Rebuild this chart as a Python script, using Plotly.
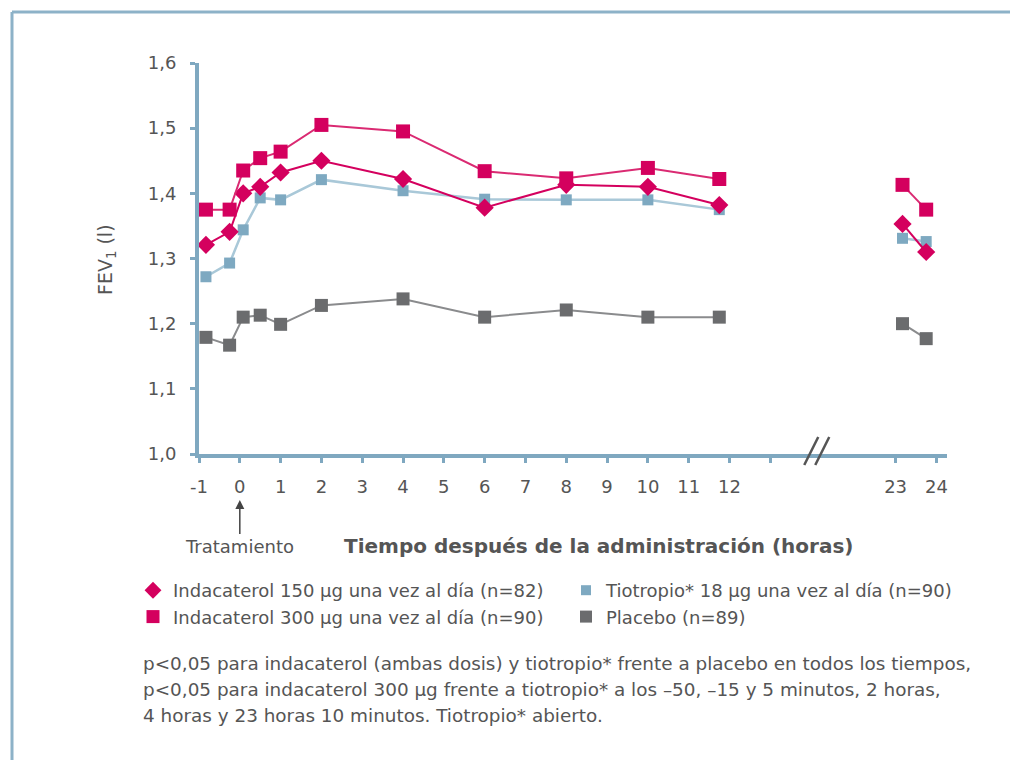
import plotly.graph_objects as go

# ---------------- data ----------------
hours = [-0.83, -0.25, 0.083, 0.5, 1, 2, 4, 6, 8, 10, 11.75, 23.17, 23.75]
ind150 = [1.321, 1.341, 1.400, 1.410, 1.432, 1.450, 1.422, 1.378, 1.413, 1.410, 1.382, 1.353, 1.310]
ind300 = [1.375, 1.375, 1.435, 1.454, 1.464, 1.505, 1.495, 1.434, 1.423, 1.439, 1.422, 1.413, 1.375]
tio = [1.272, 1.293, 1.344, 1.393, 1.390, 1.421, 1.404, 1.391, 1.390, 1.390, 1.375, 1.331, 1.326]
placebo = [1.179, 1.167, 1.210, 1.213, 1.199, 1.228, 1.238, 1.210, 1.221, 1.210, 1.210, 1.200, 1.177]

tick_hours = [-1, 0, 1, 2, 3, 4, 5, 6, 7, 8, 9, 10, 11, 12, 23, 24]
tick_labels = ["-1", "0", "1", "2", "3", "4", "5", "6", "7", "8", "9", "10", "11", "12", "23", "24"]
minor_tick_hours = [13]
y_ticks = [1.0, 1.1, 1.2, 1.3, 1.4, 1.5, 1.6]
y_labels = ["1,0", "1,1", "1,2", "1,3", "1,4", "1,5", "1,6"]

names = {
    "i150": "Indacaterol 150 µg una vez al día (n=82)",
    "tio": "Tiotropio* 18 µg una vez al día (n=90)",
    "i300": "Indacaterol 300 µg una vez al día (n=90)",
    "pla": "Placebo (n=89)",
}
footnote = [
    "p<0,05 para indacaterol (ambas dosis) y tiotropio* frente a placebo en todos los tiempos,",
    "p<0,05 para indacaterol 300 µg frente a tiotropio* a los –50, –15 y 5 minutos, 2 horas,",
    "4 horas y 23 horas 10 minutos. Tiotropio* abierto.",
]

# ---------------- layout helpers ----------------
W, H = 1010, 760
L, R, T, B = 199, 63, 63, 306
PW, PH = W - L - R, H - T - B
X_MAX = 17.33
BREAK_START = 18      # hours after which the axis is compressed
BREAK_OFFSET = 6.93   # hours removed by the axis break
BREAK_POS = 14.15


def to_axis(h):
    return h if h < BREAK_START else h - BREAK_OFFSET


def px(x):
    return (x - L) / PW


def py(y):
    return (H - B - y) / PH


def with_gap(xs, ys):
    ox, oy = [], []
    for i, (x, y) in enumerate(zip(xs, ys)):
        if i > 0 and x - xs[i - 1] > 5:
            ox.append(None)
            oy.append(None)
        ox.append(to_axis(x))
        oy.append(y)
    return ox, oy


AXIS_COLOR = "#7FA8C0"
MAGENTA = "#D4005E"
LBLUE = "#7EA9C1"
GRAY = "#6B6C6E"
TEXT = "#555555"
FONT = "DejaVu Sans"

fig = go.Figure()

series = [
    ("pla", placebo, GRAY, "#8A8B8D", "square", 13, 2),
    ("tio", tio, LBLUE, "#A9C8D8", "square", 11, 2.5),
    ("i150", ind150, MAGENTA, MAGENTA, "diamond", 14, 2),
    ("i300", ind300, MAGENTA, "#DA2A72", "square", 14, 2),
]
for key, vals, mc, lc, sym, size, lw in series:
    xs, ys = with_gap(hours, vals)
    fig.add_trace(go.Scatter(
        x=xs, y=ys, mode="lines+markers", connectgaps=False,
        line=dict(color=lc, width=lw),
        marker=dict(color=mc, symbol=sym, size=size),
        showlegend=False, hoverinfo="skip",
    ))

# legend entries (marker only, in reference order)
leg = [("i150", MAGENTA, "diamond", 13), ("tio", LBLUE, "square", 10),
       ("i300", MAGENTA, "square", 13), ("pla", GRAY, "square", 12)]
for key, c, sym, size in leg:
    fig.add_trace(go.Scatter(
        x=[None], y=[None], mode="markers", name=names[key],
        marker=dict(color=c, symbol=sym, size=size), showlegend=True,
    ))

shapes = []
# frame
shapes.append(dict(type="line", xref="paper", yref="paper", x0=px(12), x1=px(1012), y0=py(12), y1=py(12),
                   line=dict(color="#8DB2C8", width=3)))
shapes.append(dict(type="line", xref="paper", yref="paper", x0=px(12), x1=px(12), y0=py(12), y1=py(762),
                   line=dict(color="#8DB2C8", width=3)))
# axis break "//"
bx = L + (BREAK_POS + 1) * PW / (X_MAX + 1)
for dx in (-6, 5):
    shapes.append(dict(type="line", xref="paper", yref="paper",
                       x0=px(bx + dx - 7), x1=px(bx + dx + 7), y0=py(465), y1=py(437),
                       line=dict(color="#555555", width=2.5)))

annotations = [
    dict(text="FEV<sub>1</sub> (l)", xref="paper", yref="paper", x=px(106), y=py(260),
         showarrow=False, textangle=-90, font=dict(family=FONT, size=19, color=TEXT),
         xanchor="center", yanchor="middle"),
    dict(text="<b>Tiempo después de la administración (horas)</b>", xref="paper", yref="paper",
         x=px(598), y=py(546), showarrow=False, font=dict(family=FONT, size=20, color=TEXT),
         xanchor="center", yanchor="middle"),
    dict(text="Tratamiento", xref="x", yref="paper", x=0, y=py(500), ax=0, ay=46,
         showarrow=True, arrowhead=2, arrowsize=1.2, arrowwidth=1.5, arrowcolor="#444444",
         font=dict(family=FONT, size=18, color=TEXT)),
]
for i, line in enumerate(footnote):
    annotations.append(dict(text=line, xref="paper", yref="paper", x=px(141), y=py(663 + 26 * i),
                            showarrow=False, xanchor="left", yanchor="middle",
                            font=dict(family=FONT, size=18.4, color=TEXT)))

fig.update_layout(
    width=W, height=H,
    margin=dict(l=L, r=R, t=T, b=B),
    paper_bgcolor="white", plot_bgcolor="white",
    shapes=shapes, annotations=annotations,
    legend=dict(orientation="h", x=px(133), y=py(572), xanchor="left", yanchor="top",
                entrywidth=388, itemwidth=30, tracegroupgap=0,
                font=dict(family=FONT, size=18, color=TEXT), bgcolor="rgba(0,0,0,0)"),
    xaxis=dict(range=[-1, X_MAX], tickmode="array",
               tickvals=[to_axis(h) for h in tick_hours], ticktext=tick_labels,
               minor=dict(tickmode="array", tickvals=[to_axis(h) for h in minor_tick_hours],
                          ticks="outside", ticklen=5, tickwidth=3, tickcolor=AXIS_COLOR, showgrid=False),
               showline=True, linecolor=AXIS_COLOR, linewidth=4, showgrid=False, zeroline=False,
               ticks="outside", ticklen=5, tickwidth=3, tickcolor=AXIS_COLOR,
               ticklabelstandoff=8,
               tickfont=dict(family=FONT, size=18, color=TEXT)),
    yaxis=dict(range=[1.0, 1.6], tickmode="array", tickvals=y_ticks, ticktext=y_labels,
               showline=True, linecolor=AXIS_COLOR, linewidth=4, showgrid=False, zeroline=False,
               ticks="outside", ticklen=5, tickwidth=3, tickcolor=AXIS_COLOR,
               ticklabelstandoff=10,
               tickfont=dict(family=FONT, size=18, color=TEXT)),
)

fig.write_html("out.html")
